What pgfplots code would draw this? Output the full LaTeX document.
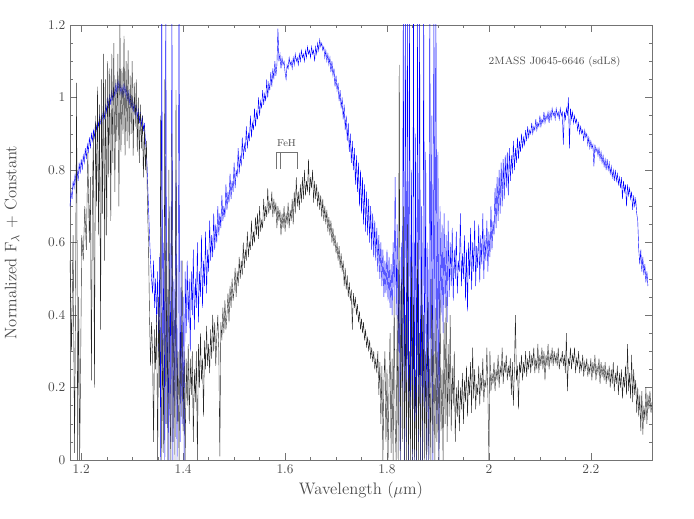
\documentclass[border=0pt]{standalone}
\usepackage{pgfplots}
\pgfplotsset{compat=1.18}
\definecolor{axgray}{gray}{0.45}
\definecolor{txtgray}{gray}{0.3}
\begin{document}
\begin{tikzpicture}
\begin{axis}[
  name=ax,
  scale only axis,
  width=436.5pt, height=326.25pt,
  xmin=1.178, xmax=2.32,
  ymin=0, ymax=1.2,
  axis line style={axgray},
  tick style={axgray},
  tick align=inside,
  xtick={1.2,1.4,1.6,1.8,2.0,2.2},
  xticklabels={1.2,1.4,1.6,1.8,2,2.2},
  ytick={0,0.2,0.4,0.6,0.8,1.0,1.2},
  yticklabels={0,0.2,0.4,0.6,0.8,1,1.2},
  minor x tick num=3,
  minor y tick num=3,
  major tick length=5pt,
  minor tick length=2.5pt,
  ticklabel style={font=\fontsize{10}{12}\selectfont, text=txtgray},
  label style={font=\fontsize{12.5}{14}\selectfont, text=txtgray},
  xlabel={Wavelength ($\mu$m)},
  ylabel={Normalized F$_\lambda$ + Constant},
  xlabel style={at={(axis description cs:0.5,0)}, anchor=center, yshift=-22.5pt},
  ylabel style={at={(axis description cs:0,0.5)}, anchor=center, yshift=43.5pt},
  clip=true,
]
% blue spectrum (offset)
\addplot[blue, line width=0.3pt] coordinates {
(1.178,0.70) (1.180,0.74) (1.182,0.72) (1.184,0.77) (1.186,0.75) (1.188,0.79) (1.190,0.76) (1.192,0.80) (1.194,0.77) (1.196,0.82)
(1.198,0.79) (1.200,0.83) (1.202,0.80) (1.204,0.84) (1.206,0.82) (1.208,0.86) (1.210,0.83) (1.212,0.87) (1.214,0.85) (1.216,0.89)
(1.218,0.86) (1.220,0.90) (1.222,0.88) (1.224,0.91) (1.226,0.89) (1.228,0.93) (1.230,0.91) (1.232,0.94) (1.234,0.92) (1.236,0.95)
(1.238,0.93) (1.240,0.92) (1.242,0.95) (1.244,0.97) (1.246,0.94) (1.248,0.98) (1.250,0.96) (1.252,1.00) (1.254,0.97) (1.256,1.01)
(1.258,0.98) (1.260,1.02) (1.262,0.99) (1.264,1.03) (1.266,1.00) (1.268,1.04) (1.270,1.01) (1.272,1.05) (1.274,1.02) (1.276,1.04)
(1.278,1.01) (1.280,1.03) (1.282,1.00) (1.284,1.04) (1.286,1.01) (1.288,1.03) (1.290,0.99) (1.292,1.02) (1.294,0.98) (1.296,1.01)
(1.298,0.97) (1.300,1.00) (1.302,0.96) (1.304,0.99) (1.306,0.95) (1.308,0.98) (1.310,0.94) (1.312,0.97) (1.314,0.93) (1.316,0.96)
(1.318,0.92) (1.320,0.95) (1.322,0.91) (1.324,0.93) (1.326,0.88) (1.328,0.85) (1.330,0.78) (1.332,0.70) (1.334,0.62) (1.336,0.55)
(1.338,0.50) (1.340,0.46) (1.342,0.55) (1.344,0.42) (1.346,0.50) (1.348,0.38) (1.350,0.52) (1.352,0.30) (1.354,0.56) (1.356,0.00)
(1.358,1.30) (1.360,0.20) (1.362,0.60) (1.364,0.00) (1.366,1.30) (1.368,0.10) (1.370,0.45) (1.372,0.00) (1.374,0.70) (1.376,0.05)
(1.378,1.30) (1.380,0.00) (1.382,0.50) (1.384,0.15) (1.386,0.80) (1.388,0.00) (1.390,0.40) (1.392,1.30) (1.394,0.05) (1.396,0.55)
(1.398,0.10) (1.400,0.45) (1.402,0.00) (1.404,0.52) (1.406,0.35) (1.408,0.55) (1.410,0.38) (1.412,0.50) (1.414,0.30) (1.416,0.52)
(1.418,0.40) (1.420,0.58) (1.422,0.36) (1.424,0.50) (1.426,0.42) (1.428,0.60) (1.430,0.38) (1.432,0.52) (1.434,0.45) (1.436,0.62)
(1.438,0.42) (1.440,0.55) (1.442,0.48) (1.444,0.63) (1.446,0.46) (1.448,0.58) (1.450,0.52) (1.452,0.66) (1.454,0.55) (1.456,0.62)
(1.458,0.56) (1.460,0.68) (1.462,0.58) (1.464,0.65) (1.466,0.60) (1.468,0.70) (1.470,0.62) (1.472,0.68) (1.474,0.64) (1.476,0.73)
(1.478,0.66) (1.480,0.70) (1.482,0.67) (1.484,0.76) (1.486,0.69) (1.488,0.74) (1.490,0.71) (1.492,0.79) (1.494,0.72) (1.496,0.77)
(1.498,0.74) (1.500,0.82) (1.502,0.75) (1.504,0.80) (1.506,0.78) (1.508,0.86) (1.510,0.79) (1.512,0.84) (1.514,0.81) (1.516,0.89)
(1.518,0.83) (1.520,0.87) (1.522,0.85) (1.524,0.92) (1.526,0.86) (1.528,0.90) (1.530,0.88) (1.532,0.95) (1.534,0.89) (1.536,0.93)
(1.538,0.91) (1.540,0.97) (1.542,0.92) (1.544,0.96) (1.546,0.94) (1.548,1.00) (1.550,0.95) (1.552,0.99) (1.554,0.97) (1.556,1.02)
(1.558,0.98) (1.560,1.01) (1.562,0.99) (1.564,1.05) (1.566,1.00) (1.568,1.04) (1.570,1.02) (1.572,1.07) (1.574,1.03) (1.576,1.08)
(1.578,1.05) (1.580,1.10) (1.582,1.06) (1.584,1.09) (1.586,1.19) (1.588,1.10) (1.590,1.12) (1.592,1.08) (1.594,1.11) (1.596,1.09)
(1.598,1.10) (1.600,1.07) (1.602,1.05) (1.604,1.09) (1.606,1.08) (1.608,1.11) (1.610,1.09) (1.612,1.10) (1.614,1.08) (1.616,1.11)
(1.618,1.09) (1.620,1.12) (1.622,1.10) (1.624,1.11) (1.626,1.09) (1.628,1.12) (1.630,1.10) (1.632,1.13) (1.634,1.11) (1.636,1.12)
(1.638,1.10) (1.640,1.13) (1.642,1.11) (1.644,1.14) (1.646,1.12) (1.648,1.13) (1.650,1.11) (1.652,1.14) (1.654,1.12) (1.656,1.13)
(1.658,1.10) (1.660,1.14) (1.662,1.12) (1.664,1.15) (1.666,1.13) (1.668,1.16) (1.670,1.14) (1.672,1.15) (1.674,1.13) (1.676,1.14)
(1.678,1.11) (1.680,1.13) (1.682,1.10) (1.684,1.12) (1.686,1.09) (1.688,1.11) (1.690,1.07) (1.692,1.10) (1.694,1.06) (1.696,1.08)
(1.698,1.03) (1.700,1.06) (1.702,1.02) (1.704,1.04) (1.706,0.99) (1.708,1.02) (1.710,0.97) (1.712,1.00) (1.714,0.94) (1.716,0.98)
(1.718,0.91) (1.720,0.95) (1.722,0.88) (1.724,0.93) (1.726,0.85) (1.728,0.90) (1.730,0.82) (1.732,0.88) (1.734,0.80) (1.736,0.86)
(1.738,0.76) (1.740,0.84) (1.742,0.74) (1.744,0.82) (1.746,0.70) (1.748,0.80) (1.750,0.68) (1.752,0.78) (1.754,0.65) (1.756,0.76)
(1.758,0.63) (1.760,0.74) (1.762,0.62) (1.764,0.72) (1.766,0.60) (1.768,0.70) (1.770,0.58) (1.772,0.68) (1.774,0.56) (1.776,0.66)
(1.778,0.55) (1.780,0.64) (1.782,0.52) (1.784,0.62) (1.786,0.50) (1.788,0.60) (1.790,0.48) (1.792,0.58) (1.794,0.45) (1.796,0.55)
(1.798,0.46) (1.800,0.58) (1.802,0.44) (1.804,0.56) (1.806,0.42) (1.808,0.54) (1.810,0.40) (1.812,0.60) (1.814,0.45) (1.816,0.78)
(1.818,0.40) (1.820,0.65) (1.822,0.30) (1.824,0.55) (1.826,0.00) (1.828,0.60) (1.830,0.20) (1.832,1.30) (1.834,0.00) (1.836,1.30)
(1.838,0.05) (1.840,1.30) (1.842,0.00) (1.844,1.30) (1.846,0.10) (1.848,0.80) (1.850,0.00) (1.852,1.30) (1.854,0.00) (1.856,0.90)
(1.858,0.00) (1.860,1.30) (1.862,0.05) (1.864,1.30) (1.866,0.00) (1.868,0.70) (1.870,0.00) (1.872,1.30) (1.874,0.10) (1.876,0.85)
(1.878,0.00) (1.880,0.60) (1.882,0.00) (1.884,1.30) (1.886,0.20) (1.888,0.95) (1.890,0.00) (1.892,1.30) (1.894,0.30) (1.896,1.30)
(1.898,0.10) (1.900,0.85) (1.902,0.00) (1.904,0.70) (1.906,0.40) (1.908,0.65) (1.910,0.35) (1.912,0.68) (1.914,0.42) (1.916,0.62)
(1.918,0.38) (1.920,0.66) (1.922,0.45) (1.924,0.60) (1.926,0.48) (1.928,0.64) (1.930,0.44) (1.932,0.58) (1.934,0.50) (1.936,0.63)
(1.938,0.46) (1.940,0.55) (1.942,0.52) (1.944,0.68) (1.946,0.48) (1.948,0.57) (1.950,0.50) (1.952,0.62) (1.954,0.44) (1.956,0.58)
(1.958,0.41) (1.960,0.60) (1.962,0.50) (1.964,0.64) (1.966,0.47) (1.968,0.60) (1.970,0.52) (1.972,0.66) (1.974,0.48) (1.976,0.59)
(1.978,0.53) (1.980,0.65) (1.982,0.49) (1.984,0.62) (1.986,0.54) (1.988,0.68) (1.990,0.50) (1.992,0.62) (1.994,0.55) (1.996,0.66)
(1.998,0.52) (2.000,0.63) (2.002,0.56) (2.004,0.70) (2.006,0.58) (2.008,0.66) (2.010,0.62) (2.012,0.75) (2.014,0.64) (2.016,0.78)
(2.018,0.66) (2.020,0.80) (2.022,0.68) (2.024,0.82) (2.026,0.70) (2.028,0.83) (2.030,0.72) (2.032,0.84) (2.034,0.75) (2.036,0.85)
(2.038,0.73) (2.040,0.86) (2.042,0.77) (2.044,0.84) (2.046,0.79) (2.048,0.88) (2.050,0.80) (2.052,0.86) (2.054,0.82) (2.056,0.89)
(2.058,0.83) (2.060,0.88) (2.062,0.85) (2.064,0.90) (2.066,0.86) (2.068,0.89) (2.070,0.87) (2.072,0.91) (2.074,0.88) (2.076,0.92)
(2.078,0.89) (2.080,0.91) (2.082,0.90) (2.084,0.93) (2.086,0.90) (2.088,0.92) (2.090,0.91) (2.092,0.94) (2.094,0.91) (2.096,0.93)
(2.098,0.92) (2.100,0.95) (2.102,0.92) (2.104,0.94) (2.106,0.93) (2.108,0.96) (2.110,0.93) (2.112,0.95) (2.114,0.94) (2.116,0.96)
(2.118,0.93) (2.120,0.96) (2.122,0.94) (2.124,0.97) (2.126,0.95) (2.128,0.96) (2.130,0.94) (2.132,0.97) (2.134,0.95) (2.136,0.96)
(2.138,0.94) (2.140,0.97) (2.142,0.95) (2.144,0.96) (2.146,0.87) (2.148,0.96) (2.150,0.94) (2.152,0.97) (2.154,0.95) (2.156,1.00)
(2.158,0.86) (2.160,0.97) (2.162,0.94) (2.164,0.96) (2.166,0.93) (2.168,0.95) (2.170,0.93) (2.172,0.94) (2.174,0.91) (2.176,0.93)
(2.178,0.90) (2.180,0.92) (2.182,0.90) (2.184,0.91) (2.186,0.88) (2.188,0.91) (2.190,0.89) (2.192,0.90) (2.194,0.87) (2.196,0.89)
(2.198,0.86) (2.200,0.88) (2.202,0.86) (2.204,0.87) (2.206,0.81) (2.208,0.87) (2.210,0.85) (2.212,0.86) (2.214,0.84) (2.216,0.86)
(2.218,0.83) (2.220,0.85) (2.222,0.82) (2.224,0.84) (2.226,0.81) (2.228,0.83) (2.230,0.80) (2.232,0.83) (2.234,0.80) (2.236,0.82)
(2.238,0.79) (2.240,0.81) (2.242,0.78) (2.244,0.80) (2.246,0.77) (2.248,0.80) (2.250,0.77) (2.252,0.79) (2.254,0.76) (2.256,0.78)
(2.258,0.75) (2.260,0.78) (2.262,0.72) (2.264,0.77) (2.266,0.74) (2.268,0.76) (2.270,0.70) (2.272,0.76) (2.274,0.73) (2.276,0.75)
(2.278,0.72) (2.280,0.74) (2.282,0.69) (2.284,0.73) (2.286,0.70) (2.288,0.72) (2.290,0.68) (2.292,0.66) (2.294,0.58) (2.296,0.54)
(2.298,0.58) (2.300,0.52) (2.302,0.56) (2.304,0.51) (2.306,0.54) (2.308,0.49) (2.310,0.52) (2.312,0.48)
};
% black spectrum
\addplot[black!85, line width=0.3pt] coordinates {
(1.178,0.55) (1.181,0.30) (1.184,0.62) (1.187,0.02) (1.189,0.50) (1.191,1.04) (1.193,0.00) (1.195,0.45) (1.197,0.00) (1.199,0.28)
(1.201,0.62) (1.204,0.55) (1.207,0.70) (1.210,0.58) (1.213,0.85) (1.216,0.60) (1.218,0.78) (1.220,0.22) (1.222,0.74) (1.224,0.90)
(1.226,0.20) (1.228,0.95) (1.230,0.70) (1.232,1.03) (1.234,0.62) (1.236,0.98) (1.238,0.36) (1.240,1.05) (1.242,0.68) (1.244,1.12)
(1.246,0.55) (1.248,1.05) (1.250,0.62) (1.252,1.10) (1.254,0.78) (1.256,1.08) (1.258,0.66) (1.260,1.12) (1.262,0.82) (1.264,1.15)
(1.266,0.74) (1.268,1.05) (1.270,0.88) (1.272,1.12) (1.274,0.70) (1.276,1.20) (1.278,0.85) (1.280,1.08) (1.282,0.90) (1.284,1.17)
(1.286,0.84) (1.288,1.10) (1.290,0.88) (1.292,1.13) (1.294,0.86) (1.296,1.06) (1.298,0.90) (1.300,1.10) (1.302,0.84) (1.304,1.04)
(1.306,0.92) (1.308,1.05) (1.310,0.85) (1.312,1.00) (1.314,0.82) (1.316,0.98) (1.318,0.86) (1.320,0.95) (1.322,0.78) (1.324,0.92)
(1.326,0.80) (1.328,0.88) (1.330,0.70) (1.332,0.60) (1.334,0.40) (1.336,0.26) (1.338,0.38) (1.340,0.30) (1.342,0.05) (1.344,0.36)
(1.346,0.25) (1.348,0.40) (1.350,0.00) (1.352,0.45) (1.354,0.20) (1.356,0.95) (1.358,0.00) (1.360,0.35) (1.362,0.02) (1.364,1.05)
(1.366,0.10) (1.368,0.60) (1.370,0.00) (1.372,0.80) (1.374,0.15) (1.376,0.00) (1.378,0.90) (1.380,0.05) (1.382,0.42) (1.384,0.00)
(1.386,1.02) (1.388,0.10) (1.390,0.30) (1.392,0.00) (1.394,0.35) (1.396,0.12) (1.398,0.55) (1.400,0.08) (1.402,0.30) (1.404,0.00)
(1.406,0.28) (1.408,0.15) (1.410,0.32) (1.412,0.10) (1.414,0.28) (1.416,0.18) (1.418,0.30) (1.420,0.05) (1.422,0.25) (1.424,0.16)
(1.426,0.30) (1.428,0.00) (1.430,0.32) (1.432,0.20) (1.434,0.35) (1.436,0.22) (1.438,0.28) (1.440,0.12) (1.442,0.33) (1.444,0.25)
(1.446,0.37) (1.448,0.26) (1.450,0.32) (1.452,0.24) (1.454,0.36) (1.456,0.28) (1.458,0.40) (1.460,0.30) (1.462,0.38) (1.464,0.26)
(1.466,0.34) (1.468,0.40) (1.470,0.30) (1.472,0.01) (1.474,0.38) (1.476,0.33) (1.478,0.42) (1.480,0.35) (1.482,0.44) (1.484,0.36)
(1.486,0.40) (1.488,0.46) (1.490,0.38) (1.492,0.48) (1.494,0.42) (1.496,0.50) (1.498,0.44) (1.500,0.47) (1.502,0.53) (1.504,0.45)
(1.506,0.52) (1.508,0.48) (1.510,0.56) (1.512,0.50) (1.514,0.55) (1.516,0.51) (1.518,0.60) (1.520,0.53) (1.522,0.58) (1.524,0.55)
(1.526,0.63) (1.528,0.56) (1.530,0.60) (1.532,0.58) (1.534,0.66) (1.536,0.59) (1.538,0.63) (1.540,0.60) (1.542,0.67) (1.544,0.62)
(1.546,0.68) (1.548,0.61) (1.550,0.70) (1.552,0.63) (1.554,0.66) (1.556,0.64) (1.558,0.72) (1.560,0.66) (1.562,0.70) (1.564,0.67)
(1.566,0.75) (1.568,0.68) (1.570,0.71) (1.572,0.69) (1.574,0.74) (1.576,0.67) (1.578,0.72) (1.580,0.68) (1.582,0.71) (1.584,0.64)
(1.586,0.70) (1.588,0.66) (1.590,0.69) (1.592,0.62) (1.594,0.68) (1.596,0.64) (1.598,0.70) (1.600,0.63) (1.602,0.68) (1.604,0.65)
(1.606,0.71) (1.608,0.64) (1.610,0.69) (1.612,0.66) (1.614,0.72) (1.616,0.65) (1.618,0.74) (1.620,0.68) (1.622,0.78) (1.624,0.70)
(1.626,0.74) (1.628,0.69) (1.630,0.76) (1.632,0.71) (1.634,0.78) (1.636,0.72) (1.638,0.80) (1.640,0.73) (1.642,0.77) (1.644,0.74)
(1.646,0.83) (1.648,0.73) (1.650,0.78) (1.652,0.75) (1.654,0.80) (1.656,0.71) (1.658,0.77) (1.660,0.72) (1.662,0.76) (1.664,0.70)
(1.666,0.74) (1.668,0.69) (1.670,0.73) (1.672,0.67) (1.674,0.72) (1.676,0.66) (1.678,0.70) (1.680,0.65) (1.682,0.69) (1.684,0.63)
(1.686,0.67) (1.688,0.62) (1.690,0.66) (1.692,0.60) (1.694,0.64) (1.696,0.59) (1.698,0.62) (1.700,0.57) (1.702,0.60) (1.704,0.55)
(1.706,0.59) (1.708,0.53) (1.710,0.57) (1.712,0.52) (1.714,0.55) (1.716,0.48) (1.718,0.53) (1.720,0.47) (1.722,0.51) (1.724,0.45)
(1.726,0.49) (1.728,0.44) (1.730,0.47) (1.732,0.36) (1.734,0.46) (1.736,0.42) (1.738,0.45) (1.740,0.40) (1.742,0.43) (1.744,0.38)
(1.746,0.41) (1.748,0.36) (1.750,0.39) (1.752,0.35) (1.754,0.38) (1.756,0.33) (1.758,0.36) (1.760,0.31) (1.762,0.34) (1.764,0.30)
(1.766,0.33) (1.768,0.28) (1.770,0.31) (1.772,0.27) (1.774,0.30) (1.776,0.25) (1.778,0.28) (1.780,0.24) (1.782,0.30) (1.784,0.18)
(1.786,0.27) (1.788,0.10) (1.790,0.26) (1.792,0.00) (1.794,0.22) (1.796,0.30) (1.798,0.05) (1.800,0.25) (1.802,0.00) (1.804,0.20)
(1.806,0.35) (1.808,0.02) (1.810,0.28) (1.812,0.00) (1.814,0.45) (1.816,0.10) (1.818,0.00) (1.820,0.40) (1.822,0.00) (1.824,1.09)
(1.826,0.00) (1.828,0.50) (1.830,0.05) (1.832,0.70) (1.834,0.00) (1.836,0.40) (1.838,0.00) (1.840,0.65) (1.842,0.00) (1.844,0.30)
(1.846,0.00) (1.848,0.55) (1.850,0.00) (1.852,0.45) (1.854,0.00) (1.856,0.25) (1.858,0.00) (1.860,0.60) (1.862,0.00) (1.864,0.35)
(1.866,0.00) (1.868,0.50) (1.870,0.00) (1.872,0.40) (1.874,0.00) (1.876,0.30) (1.878,0.00) (1.880,0.45) (1.882,0.00) (1.884,0.28)
(1.886,0.00) (1.888,0.50) (1.890,0.02) (1.892,0.35) (1.894,0.00) (1.896,0.42) (1.898,0.05) (1.900,0.30) (1.902,0.00) (1.904,0.46)
(1.906,0.08) (1.908,0.25) (1.910,0.00) (1.912,0.38) (1.914,0.10) (1.916,0.45) (1.918,0.05) (1.920,0.32) (1.922,0.12) (1.924,0.40)
(1.926,0.08) (1.928,0.26) (1.930,0.15) (1.932,0.30) (1.934,0.05) (1.936,0.20) (1.938,0.12) (1.940,0.22) (1.942,0.08) (1.944,0.20)
(1.946,0.14) (1.948,0.24) (1.950,0.10) (1.952,0.22) (1.954,0.16) (1.956,0.26) (1.958,0.12) (1.960,0.23) (1.962,0.18) (1.964,0.27)
(1.966,0.13) (1.968,0.31) (1.970,0.17) (1.972,0.25) (1.974,0.14) (1.976,0.21) (1.978,0.18) (1.980,0.26) (1.982,0.15) (1.984,0.24)
(1.986,0.19) (1.988,0.28) (1.990,0.16) (1.992,0.22) (1.994,0.20) (1.996,0.31) (1.998,0.18) (2.000,0.00) (2.002,0.30) (2.004,0.19)
(2.006,0.24) (2.008,0.21) (2.010,0.27) (2.012,0.19) (2.014,0.25) (2.016,0.22) (2.018,0.29) (2.020,0.20) (2.022,0.26) (2.024,0.23)
(2.026,0.31) (2.028,0.21) (2.030,0.27) (2.032,0.24) (2.034,0.29) (2.036,0.22) (2.038,0.26) (2.040,0.23) (2.042,0.28) (2.044,0.18)
(2.046,0.27) (2.048,0.15) (2.050,0.25) (2.052,0.40) (2.054,0.22) (2.056,0.26) (2.058,0.14) (2.060,0.27) (2.062,0.24) (2.064,0.29)
(2.066,0.22) (2.068,0.27) (2.070,0.24) (2.072,0.30) (2.074,0.23) (2.076,0.28) (2.078,0.25) (2.080,0.30) (2.082,0.24) (2.084,0.29)
(2.086,0.26) (2.088,0.31) (2.090,0.24) (2.092,0.28) (2.094,0.25) (2.096,0.32) (2.098,0.24) (2.100,0.29) (2.102,0.26) (2.104,0.31)
(2.106,0.25) (2.108,0.30) (2.110,0.22) (2.112,0.29) (2.114,0.26) (2.116,0.32) (2.118,0.25) (2.120,0.29) (2.122,0.27) (2.124,0.31)
(2.126,0.26) (2.128,0.30) (2.130,0.27) (2.132,0.29) (2.134,0.26) (2.136,0.31) (2.138,0.25) (2.140,0.28) (2.142,0.27) (2.144,0.30)
(2.146,0.26) (2.148,0.29) (2.150,0.24) (2.152,0.35) (2.154,0.19) (2.156,0.28) (2.158,0.26) (2.160,0.31) (2.162,0.25) (2.164,0.29)
(2.166,0.27) (2.168,0.31) (2.170,0.24) (2.172,0.28) (2.174,0.26) (2.176,0.30) (2.178,0.24) (2.180,0.27) (2.182,0.25) (2.184,0.29)
(2.186,0.23) (2.188,0.27) (2.190,0.25) (2.192,0.28) (2.194,0.23) (2.196,0.26) (2.198,0.24) (2.200,0.28) (2.202,0.22) (2.204,0.27)
(2.206,0.24) (2.208,0.29) (2.210,0.22) (2.212,0.26) (2.214,0.24) (2.216,0.28) (2.218,0.21) (2.220,0.27) (2.222,0.23) (2.224,0.26)
(2.226,0.22) (2.228,0.27) (2.230,0.21) (2.232,0.25) (2.234,0.22) (2.236,0.26) (2.238,0.20) (2.240,0.25) (2.242,0.21) (2.244,0.27)
(2.246,0.19) (2.248,0.24) (2.250,0.21) (2.252,0.26) (2.254,0.18) (2.256,0.24) (2.258,0.20) (2.260,0.25) (2.262,0.17) (2.264,0.23)
(2.266,0.20) (2.268,0.26) (2.270,0.18) (2.272,0.32) (2.274,0.19) (2.276,0.24) (2.278,0.17) (2.280,0.29) (2.282,0.16) (2.284,0.25)
(2.286,0.18) (2.288,0.22) (2.290,0.13) (2.292,0.20) (2.294,0.12) (2.296,0.18) (2.298,0.08) (2.300,0.19) (2.302,0.07) (2.304,0.15)
(2.306,0.11) (2.308,0.20) (2.310,0.10) (2.312,0.18) (2.314,0.14) (2.316,0.19) (2.318,0.13) (2.320,0.16)
};
% FeH bracket
\draw[axgray, line width=0.4pt] (axis cs:1.582,0.802) -- (axis cs:1.582,0.848) -- (axis cs:1.624,0.848) -- (axis cs:1.624,0.802);
\draw[axgray, line width=0.4pt] (axis cs:1.591,0.848) -- (axis cs:1.591,0.802);
\node[text=txtgray, font=\fontsize{7.5}{9}\selectfont, anchor=south] at (axis cs:1.603,0.852) {FeH};
\node[text=txtgray, font=\fontsize{8}{10}\selectfont] at (axis cs:2.129,1.099) {2MASS J0645-6646 (sdL8)};
\end{axis}
\pgfresetboundingbox
\path[use as bounding box] ([xshift=-52.5pt,yshift=-43.5pt]ax.south west) rectangle ([xshift=31.5pt,yshift=18.75pt]ax.north east);
\end{tikzpicture}
\end{document}
